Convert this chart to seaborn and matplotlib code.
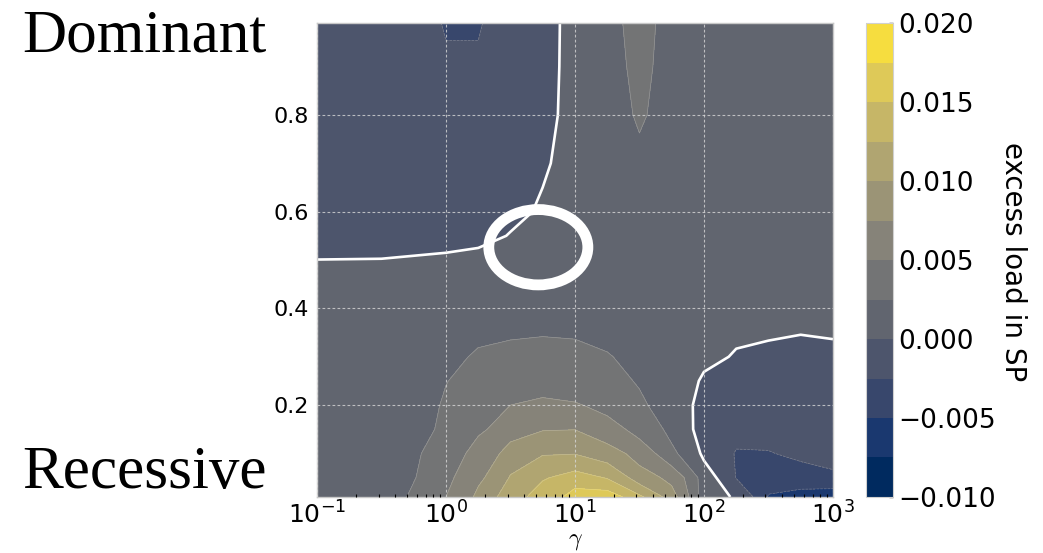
import numpy as np
import matplotlib
matplotlib.use("Agg")
import matplotlib.pyplot as plt
import seaborn as sns
from matplotlib.patches import Ellipse
from matplotlib.ticker import FuncFormatter, LogLocator, NullFormatter

# ---------------- data ----------------
gamma = [0.1, 0.316, 1.0, 1.78, 3.16, 5.62, 10.0, 17.8, 31.6, 56.2,
         100.0, 178.0, 316.0, 562.0, 1000.0]
dominance_h = [0.01, 0.05, 0.10, 0.15, 0.20, 0.25, 0.30, 0.35, 0.40, 0.45,
               0.50, 0.55, 0.60, 0.70, 0.80, 0.90, 0.99]

# excess load in SP, in units of 1e-3, one list per h value (columns follow gamma)
load_h001 = [1.5, 1.6, 5.0, 8.1, 11.75, 13.45, 16.2, 16.4, 13.0, 8.5, 1.0, -0.3, -5.2, -6.0, -6.5]
load_h005 = [1.2, 1.2, 4.5, 7.0, 10.2, 12.3, 13.5, 12.3, 8.5, 6.8, 1.2, -2.6, -3.8, -3.5, -3.0]
load_h010 = [1.0, 1.3, 3.8, 6.0, 8.5, 9.8, 9.9, 8.5, 6.5, 3.0, -0.5, -2.7, -2.6, -2.0, -1.5]
load_h015 = [0.9, 1.4, 2.9, 4.6, 6.4, 7.35, 7.45, 6.0, 4.0, 1.8, -1.2, -1.6, -1.8, -1.6, -1.4]
load_h020 = [0.9, 1.4, 2.7, 4.0, 5.0, 5.5, 5.2, 4.2, 2.9, 1.0, -0.7, -1.2, -1.3, -1.2, -1.0]
load_h025 = [0.9, 1.3, 2.45, 3.3, 3.7, 3.9, 3.6, 3.1, 2.3, 1.2, -0.3, -0.9, -1.0, -1.0, -0.9]
load_h030 = [0.9, 1.2, 2.0, 2.8, 2.95, 3.0, 2.9, 2.6, 1.9, 1.2, 0.5, -0.2, -0.4, -0.5, -0.4]
load_h035 = [0.9, 1.1, 1.6, 2.0, 2.3, 2.4, 2.35, 2.1, 1.6, 1.2, 0.8, 0.4, 0.2, 0.05, 0.15]
load_h040 = [0.8, 0.9, 1.2, 1.4, 1.6, 1.7, 1.7, 1.5, 1.3, 1.1, 0.9, 0.8, 0.7, 0.6, 0.6]
load_h045 = [0.4, 0.45, 0.6, 0.8, 1.0, 1.1, 1.2, 1.2, 1.1, 1.0, 0.9, 0.8, 0.8, 0.7, 0.7]
load_h050 = [0.02, 0.05, 0.3, 0.5, 0.8, 1.0, 1.1, 1.2, 1.3, 1.0, 0.9, 0.8, 0.8, 0.7, 0.7]
load_h055 = [-1.0, -0.9, -0.7, -0.5, 0.1, 0.8, 1.1, 1.3, 1.5, 1.1, 0.9, 0.8, 0.8, 0.7, 0.7]
load_h060 = [-1.1, -1.1, -1.0, -0.9, -0.5, 0.3, 1.1, 1.4, 1.7, 1.2, 0.9, 0.8, 0.8, 0.7, 0.7]
load_h070 = [-1.2, -1.2, -1.2, -1.1, -0.9, -0.3, 1.2, 1.5, 2.0, 1.2, 0.9, 0.8, 0.8, 0.7, 0.7]
load_h080 = [-1.2, -1.2, -1.3, -1.2, -1.0, -0.6, 0.9, 1.6, 2.8, 1.2, 0.9, 0.8, 0.8, 0.7, 0.7]
load_h090 = [-1.3, -1.3, -2.2, -2.2, -1.1, -0.6, 0.75, 1.7, 3.2, 1.2, 0.9, 0.8, 0.8, 0.7, 0.7]
load_h099 = [-1.3, -1.0, -2.7, -2.7, -0.8, -0.6, 0.7, 1.8, 3.5, 1.2, 0.9, 0.8, 0.8, 0.7, 0.7]

contour_levels = [-0.010, -0.0075, -0.005, -0.0025, 0.0, 0.0025, 0.005,
                  0.0075, 0.010, 0.0125, 0.015, 0.0175, 0.020]
cbar_ticks = [-0.010, -0.005, 0.0, 0.005, 0.010, 0.015, 0.020]
y_ticks = [0.2, 0.4, 0.6, 0.8]

rows = [load_h001, load_h005, load_h010, load_h015, load_h020, load_h025,
        load_h030, load_h035, load_h040, load_h045, load_h050, load_h055,
        load_h060, load_h070, load_h080, load_h090, load_h099]
Z = np.array(rows) * 1e-3
G, H = np.meshgrid(np.array(gamma), np.array(dominance_h))

# ---------------- style ----------------
sns.set_theme(style="white")
plt.rcParams["font.family"] = ["DejaVu Sans"]
plt.rcParams["text.color"] = "black"
plt.rcParams["axes.labelcolor"] = "black"
plt.rcParams["xtick.color"] = "black"
plt.rcParams["ytick.color"] = "black"
cmap = sns.color_palette("cividis", as_cmap=True)

fig = plt.figure(figsize=(10.43, 5.53), dpi=100)
ax = fig.add_axes([0.3039, 0.1013, 0.4947, 0.857])
cax = fig.add_axes([0.8303, 0.1013, 0.0259, 0.857])

cs = ax.contourf(G, H, Z, levels=contour_levels, cmap=cmap,
                 vmin=contour_levels[0], vmax=contour_levels[-1])
ax.contour(G, H, Z, levels=contour_levels[1:-1], colors="white",
           linewidths=0.5, alpha=0.25)
ax.contour(G, H, Z, levels=[0.0], colors="white", linewidths=1.9)

ax.set_xscale("log")
ax.set_xlim(0.1, 1000)
ax.set_ylim(dominance_h[0], dominance_h[-1])
ax.set_yticks(y_ticks)
ax.set_yticklabels([f"{t:.1f}" for t in y_ticks])
ax.xaxis.set_major_locator(LogLocator(base=10, numticks=10))
ax.xaxis.set_minor_locator(LogLocator(base=10, subs=np.arange(2, 10), numticks=50))
ax.xaxis.set_minor_formatter(NullFormatter())

ax.grid(True, which="major", color="#d8d8d8", linestyle=(0, (2.5, 2)),
        linewidth=0.8, alpha=0.8)
ax.set_axisbelow(False)
for sp in ax.spines.values():
    sp.set_color("#c8c8c8")
    sp.set_linewidth(1.0)
ax.tick_params(axis="both", which="major", direction="in", length=4,
               width=1, color="black", labelsize=16, pad=6)
ax.tick_params(axis="x", which="minor", direction="in", length=2.5,
               width=0.8, color="black", bottom=True)
ax.tick_params(axis="x", which="major", labelsize=18, pad=3)

ax.set_xlabel(r"$\gamma$", fontsize=17, math_fontfamily="cm", labelpad=0)

# annotation ring
ring = Ellipse((0.429, 0.527), 0.192, 0.159, transform=ax.transAxes,
               fill=False, edgecolor="white", linewidth=7.8, zorder=5)
ax.add_patch(ring)

# colorbar
cb = fig.colorbar(cs, cax=cax, ticks=cbar_ticks)
cb.ax.yaxis.set_major_formatter(
    FuncFormatter(lambda v, p: f"{v:.3f}".replace("-", "\u2212")))
cb.ax.tick_params(labelsize=19, length=3, width=1, color="#333333",
                  direction="in", pad=4)
cb.outline.set_edgecolor("#d0d0d0")
cb.outline.set_linewidth(0.8)
fig.text(1013 / 1043, 1 - 262 / 553, "excess load in SP", rotation=270,
         fontsize=20, ha="center", va="center")

# side labels
fig.text(0.021, 0.906, "Dominant", family=["Liberation Serif"], fontsize=44,
         ha="left", va="baseline")
fig.text(0.021, 0.1175, "Recessive", family=["Liberation Serif"], fontsize=44,
         ha="left", va="baseline")

fig.savefig("out.png", dpi=100)
